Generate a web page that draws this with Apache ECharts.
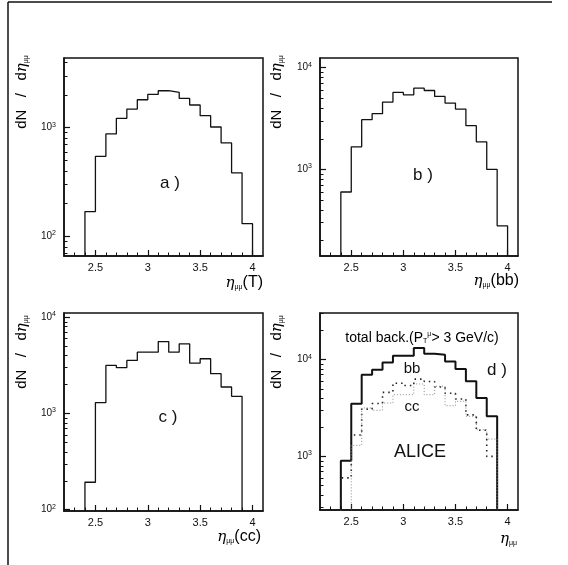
<!DOCTYPE html>
<html>
<head>
<meta charset="utf-8">
<script src="https://cdn.jsdelivr.net/npm/echarts@6/dist/echarts.min.js"></script>
<style>
html, body { margin: 0; padding: 0; background: #fff; }
#chart { width: 568px; height: 565px; }
</style>
</head>
<body>
<div id="chart"></div>
<script>
// bin edges of the eta histograms (0.1 wide)
var edges = [2.4, 2.5, 2.6, 2.7, 2.8, 2.9, 3.0, 3.1, 3.2, 3.3, 3.4, 3.5, 3.6, 3.7, 3.8, 3.9, 4.0];

// dN/deta per bin
var histT = [169, 545, 875, 1217, 1483, 1806, 2023, 2185, 2108, 1856, 1615, 1289, 1014, 724, 384, 131];
var histBB = [600, 1667, 3083, 3527, 4590, 5705, 5410, 6290, 5960, 5210, 4490, 3920, 2690, 1865, 1000, 279];
var histCC = [193, 1300, 3170, 2997, 3565, 4345, 4345, 5610, 4345, 5310, 3345, 3717, 2600, 1888, 1511];
var histTotal = [900, 3510, 6990, 7880, 9380, 10990, 11000, 13210, 11530, 11270, 9600, 8020, 5970, 4020, 2600];

// ticks
var xLabelTicks = [2.5, 3, 3.5, 4];
var xSmallTicks = [2.3, 2.4, 2.6, 2.7, 2.8, 2.9, 3.1, 3.2, 3.3, 3.4, 3.6, 3.7, 3.8, 3.9, 4.0];
var yMajorA = [100, 1000];
var yMinorA = [70, 80, 90, 200, 300, 400, 500, 600, 700, 800, 900, 2000, 3000, 4000];
var yMajorB = [1000, 10000];
var yMinorB = [200, 300, 400, 500, 600, 700, 800, 900, 2000, 3000, 4000, 5000, 6000, 7000, 8000, 9000];
var yMajorC = [100, 1000, 10000];
var yMinorC = [200, 300, 400, 500, 600, 700, 800, 900, 2000, 3000, 4000, 5000, 6000, 7000, 8000, 9000];
var yMajorD = [1000, 10000];
var yMinorD = [300, 400, 500, 600, 700, 800, 900, 2000, 3000, 4000, 5000, 6000, 7000, 8000, 9000, 20000, 30000];

var FONT = 'Liberation Sans, Arial, sans-serif';
var INK = '#111';

var panels = [
	{ left: 64, top: 58, width: 199, height: 198, ymin: 66, ymax: 4370, major: yMajorA, minor: yMinorA },
	{ left: 320, top: 58, width: 198, height: 198, ymin: 141, ymax: 12440, major: yMajorB, minor: yMinorB },
	{ left: 64, top: 313, width: 199, height: 198, ymin: 97, ymax: 11110, major: yMajorC, minor: yMinorC },
	{ left: 320, top: 313, width: 198, height: 197, ymin: 279, ymax: 30400, major: yMajorD, minor: yMinorD }
];

// histogram outline as points for a step line, dropping to the axis floor at both ends
function steps(vals, floor) {
	var pts = [[edges[0], floor]];
	for (var i = 0; i < vals.length; i++) {
		pts.push([edges[i], vals[i]]);
	}
	pts.push([edges[vals.length], vals[vals.length - 1]]);
	pts.push([edges[vals.length], floor]);
	return pts;
}

var grids = [], xAxes = [], yAxes = [], series = [];

panels.forEach(function(p, i) {
	grids.push({
		left: p.left, top: p.top, width: p.width, height: p.height,
		show: true, borderColor: INK, borderWidth: 1.5, backgroundColor: 'transparent'
	});
	xAxes.push({
		type: 'value', gridIndex: i, position: 'bottom', min: 2.2, max: 4.1,
		axisLine: { lineStyle: { color: INK, width: 1.5 } },
		axisTick: { inside: true, length: 6, customValues: xLabelTicks, lineStyle: { color: INK, width: 1.2 } },
		axisLabel: {
			customValues: xLabelTicks, margin: 6, color: INK, fontSize: 11, fontFamily: FONT,
			formatter: function(v) { return String(v); }
		},
		splitLine: { show: false }
	});
	xAxes.push({
		type: 'value', gridIndex: i, position: 'bottom', min: 2.2, max: 4.1,
		axisLine: { show: false },
		axisTick: { inside: true, length: 3.5, customValues: xSmallTicks, lineStyle: { color: INK, width: 1 } },
		axisLabel: { show: false },
		splitLine: { show: false }
	});
	yAxes.push({
		type: 'log', gridIndex: i, position: 'left', min: p.ymin, max: p.ymax,
		axisLine: { show: true, lineStyle: { color: INK, width: 1.5 } },
		axisTick: { inside: true, length: 6, customValues: p.major, lineStyle: { color: INK, width: 1.2 } },
		axisLabel: {
			customValues: p.major, margin: 8, color: INK, fontFamily: FONT,
			formatter: function(v) {
				return '{b|10}{s|' + Math.round(Math.log10(v)) + '}';
			},
			rich: {
				b: { fontSize: 10, fontFamily: FONT, color: INK },
				s: { fontSize: 7, fontFamily: FONT, color: INK, verticalAlign: 'top', padding: [0, 0, 6, 0] }
			}
		},
		splitLine: { show: false }
	});
	yAxes.push({
		type: 'log', gridIndex: i, position: 'left', min: p.ymin, max: p.ymax,
		axisLine: { show: false },
		axisTick: { inside: true, length: 3.5, customValues: p.minor, lineStyle: { color: INK, width: 1 } },
		axisLabel: { show: false },
		splitLine: { show: false }
	});
});

function histSeries(idx, vals, style) {
	return {
		type: 'line', step: 'end', xAxisIndex: idx * 2, yAxisIndex: idx * 2,
		data: steps(vals, panels[idx].ymin),
		symbol: 'none', clip: true, silent: true,
		lineStyle: style
	};
}

series.push(histSeries(0, histT, { color: INK, width: 1.3 }));
series.push(histSeries(1, histBB, { color: INK, width: 1.3 }));
series.push(histSeries(2, histCC, { color: INK, width: 1.3 }));
series.push(histSeries(3, histTotal, { color: INK, width: 2 }));
series.push(histSeries(3, histBB.slice(0, 15), { color: '#222', width: 1.6, type: [1.5, 4] }));
series.push(histSeries(3, histCC, { color: '#888', width: 1, type: [1, 2] }));

// axis titles and panel tags
var richEta = {
	e: { fontSize: 15, fontFamily: 'DejaVu Serif, serif', fontStyle: 'italic', color: INK },
	u: { fontSize: 7, fontFamily: FONT, color: INK, verticalAlign: 'bottom', padding: [6, 0, 0, 0] },
	t: { fontSize: 16, fontFamily: FONT, color: INK }
};
var richY = {
	t: { fontSize: 15, fontFamily: FONT, color: INK },
	e: { fontSize: 15, fontFamily: 'DejaVu Serif, serif', fontStyle: 'italic', color: INK },
	u: { fontSize: 7, fontFamily: FONT, color: INK, verticalAlign: 'bottom', padding: [6, 0, 0, 0] }
};

function yTitle(x, y) {
	return {
		type: 'text', x: x, y: y, rotation: Math.PI / 2,
		style: { text: '{t|dN   /   d}{e|η}{u|μμ}', rich: richY, align: 'center', verticalAlign: 'middle' }
	};
}
function xTitle(x, y, tail) {
	return {
		type: 'text', x: x, y: y,
		style: { text: '{e|η}{u|μμ}' + (tail ? '{t|' + tail + '}' : ''), rich: richEta, align: 'right', verticalAlign: 'middle' }
	};
}
function tag(x, y, txt, size) {
	return {
		type: 'text', x: x, y: y,
		style: { text: txt, fontSize: size, fontFamily: FONT, fill: INK, align: 'center', verticalAlign: 'middle' }
	};
}

var graphics = [
	{ type: 'line', shape: { x1: 8, y1: 2, x2: 552, y2: 2 }, style: { stroke: INK, lineWidth: 1.5 } },
	{ type: 'line', shape: { x1: 8, y1: 2, x2: 8, y2: 565 }, style: { stroke: INK, lineWidth: 1.5 } },
	yTitle(22, 92), yTitle(277, 92), yTitle(22, 352), yTitle(277, 352),
	xTitle(263, 283, '(T)'), xTitle(519, 281, '(bb)'), xTitle(261, 537, '(cc)'), xTitle(517, 539, ''),
	tag(170, 183, 'a )', 17), tag(423, 175, 'b )', 17), tag(168, 417, 'c )', 17), tag(497, 370, 'd )', 17),
	tag(412, 369, 'bb', 15), tag(412, 407, 'cc', 15), tag(420, 452, 'ALICE', 18),
	{
		type: 'text', x: 422, y: 338,
		style: {
			text: '{t|total back.(P}{u|T}{s|μ}{t|> 3 GeV/c)}',
			align: 'center', verticalAlign: 'middle',
			rich: {
				t: { fontSize: 14, fontFamily: FONT, color: INK },
				u: { fontSize: 7, fontFamily: FONT, color: INK, verticalAlign: 'bottom', padding: [6, 0, 0, 0] },
				s: { fontSize: 7, fontFamily: FONT, color: INK, verticalAlign: 'top', padding: [0, 0, 6, 0] }
			}
		}
	}
];

var myChart = echarts.init(document.getElementById('chart'));
myChart.setOption({
	animation: false,
	backgroundColor: '#fff',
	grid: grids,
	xAxis: xAxes,
	yAxis: yAxes,
	series: series,
	graphic: graphics
});
</script>
</body>
</html>
